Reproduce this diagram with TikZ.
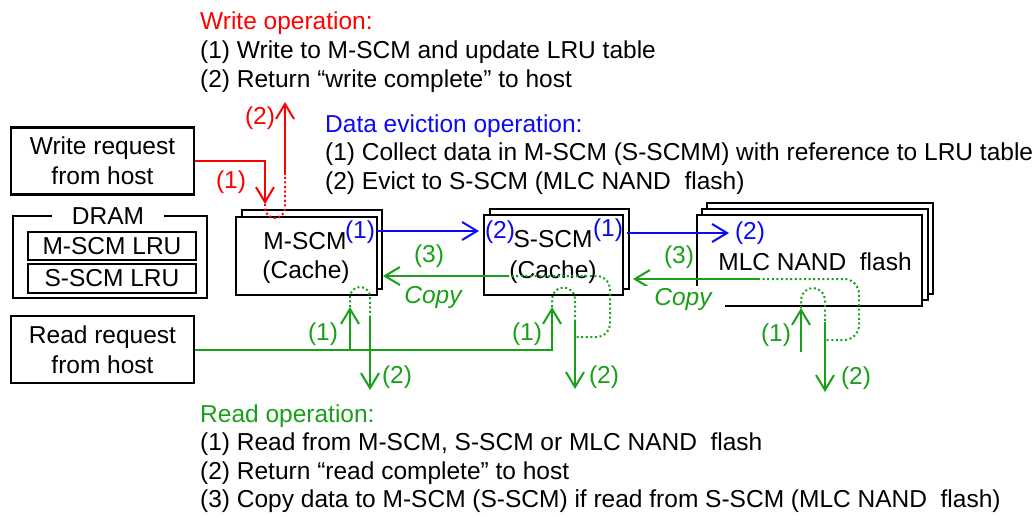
\documentclass[tikz,border=0pt]{standalone}
\usepackage{fontspec}
\setmainfont{Liberation Sans}
\usetikzlibrary{arrows.meta}
\definecolor{wred}{RGB}{255,0,0}
\definecolor{eblue}{RGB}{10,10,245}
\definecolor{rgreen}{RGB}{25,160,25}
\tikzset{
  box/.style={draw=black, line width=2.4pt, fill=white, inner sep=0pt},
  txt/.style={anchor=base west, inner sep=0pt, font=\fontsize{24.5}{29}\selectfont},
  lbl/.style={inner sep=0pt, font=\fontsize{24.5}{29}\selectfont},
  con/.style={line width=2pt},
  arr/.style={con, -{Straight Barb[length=15pt,width=18pt]}},
  dots/.style={line width=2pt, dash pattern=on 2pt off 2.6pt},
}
\begin{document}
\begin{tikzpicture}[x=1pt,y=-1pt]
\useasboundingbox (0,0) rectangle (1034,515);

% ---------- texts ----------
\node[txt, text=wred] (wop) at (200,29) {Write operation:};
\node[txt] (wop1) at (200,58) {(1) Write to M-SCM and update LRU table};
\node[txt] (wop2) at (200,87) {(2) Return “write complete” to host};

\node[txt, text=eblue] (eop) at (325,132) {Data eviction operation:};
\node[txt] (eop1) at (325,160) {(1) Collect data in M-SCM (S-SCMM) with reference to LRU table};
\node[txt] (eop2) at (325,189) {(2) Evict to S-SCM (MLC NAND\ \ flash)};

\node[txt, text=rgreen] (rop) at (200,422) {Read operation:};
\node[txt] (rop1) at (200,450) {(1) Read from M-SCM, S-SCM or MLC NAND\ \ flash};
\node[txt] (rop2) at (200,479) {(2) Return “read complete” to host};
\node[txt] (rop3) at (200,507) {(3) Copy data to M-SCM (S-SCM) if read from S-SCM (MLC NAND\ \ flash)};

% ---------- host boxes ----------
\node[box, minimum width=183pt, minimum height=67pt, align=center,
      font=\fontsize{24.5}{30}\selectfont] (wr) at (102.5,161) {Write request\\from host};
\node[box, minimum width=183pt, minimum height=67pt, align=center,
      font=\fontsize{24.5}{30}\selectfont] (rr) at (102.5,349.5) {Read request\\from host};

% ---------- DRAM ----------
\node[box, minimum width=194pt, minimum height=82pt] (dram) at (110,257) {};
\node[lbl, fill=white, inner xsep=20pt, inner ysep=2pt] (dramt) at (108,216) {DRAM};
\node[box, minimum width=168pt, minimum height=28pt, font=\fontsize{24.5}{29}\selectfont] (mlru) at (112,246) {M-SCM LRU};
\node[box, minimum width=168pt, minimum height=29pt, font=\fontsize{24.5}{29}\selectfont] (slru) at (112,278.5) {S-SCM LRU};

% ---------- M-SCM ----------
\node[box, minimum width=140pt, minimum height=79pt] (mscmB) at (312,249.5) {};
\node[box, minimum width=141pt, minimum height=78pt] (mscm) at (306.5,256) {};
\node[lbl, anchor=base] (mscmt1) at (305,249) {M-SCM};
\node[lbl, anchor=base] (mscmt2) at (306,278) {(Cache)};

% ---------- S-SCM ----------
\node[box, minimum width=139pt, minimum height=80pt] (sscmB) at (559.5,249) {};
\node[box, minimum width=139pt, minimum height=80pt] (sscm) at (553.5,255) {};
\node[lbl, anchor=base] (sscmt1) at (553,247) {S-SCM};
\node[lbl, anchor=base] (sscmt2) at (553,278) {(Cache)};

% ---------- MLC NAND flash ----------
\node[box, minimum width=226pt, minimum height=91pt] (mlcB2) at (820,248.5) {};
\node[box, minimum width=226pt, minimum height=91pt] (mlcB1) at (815,254.5) {};
\node[box, minimum width=225pt, minimum height=91pt] (mlc) at (809.5,260.5) {};
\node[lbl, anchor=base] (mlct) at (815,270) {MLC NAND\ \ flash};

% ---------- coordinates ----------
\coordinate (w1tip) at (265,204);
\coordinate (w2s) at (285,175);
\coordinate (w2tip) at (285,102);

\coordinate (b1s) at (377,231);
\coordinate (b1t) at (479,231);
\coordinate (b2s) at (627,233);
\coordinate (b2t) at (729,233);

\coordinate (c1t) at (383,276);
\coordinate (c1s) at (507,276);
\coordinate (c1e) at (575,337);
\coordinate (c2t) at (633,279);
\coordinate (c2s) at (758,279);
\coordinate (c2e) at (825,340);

\coordinate (r1m) at (350,349.5);
\coordinate (r1t) at (350,307);
\coordinate (r1d) at (370,317);
\coordinate (r1o) at (370,390);
\coordinate (r2t) at (552,307);
\coordinate (r2d) at (575,320);
\coordinate (r2o) at (575,389);
\coordinate (r3b) at (801,352);
\coordinate (r3t) at (801,308);
\coordinate (r3d) at (825,322);
\coordinate (r3o) at (825,392);

% ---------- write (red) ----------
\draw[arr, wred] (wr.east) -| (w1tip);
\draw[dots, wred] (w1tip) -- (265,208) arc[start angle=180, end angle=360, radius=10pt] -- (w2s);
\draw[arr, wred] (w2s) -- (w2tip);
\node[lbl, text=wred] (wl1) at (231,182) {(1)};
\node[lbl, text=wred] (wl2) at (260,118) {(2)};

% ---------- eviction (blue) ----------
\draw[arr, eblue] (b1s) -- (b1t);
\draw[arr, eblue] (b2s) -- (b2t);
\node[lbl, text=eblue] (el1) at (360,232) {(1)};
\node[lbl, text=eblue] (el2) at (500,232) {(2)};
\node[lbl, text=eblue] (el3) at (608,230) {(1)};
\node[lbl, text=eblue] (el4) at (750,233) {(2)};

% ---------- copy (green) ----------
\draw[arr, rgreen] (c1s) -- (c1t);
\draw[dots, rgreen, rounded corners=13pt] (c1s) -| (610,310) |- (c1e);
\draw[arr, rgreen] (c2s) -- (c2t);
\draw[dots, rgreen, rounded corners=15pt] (c2s) -| (859,310) |- (c2e);
\node[lbl, text=rgreen] (cl1) at (429,256) {(3)};
\node[lbl, text=rgreen, font=\fontsize{24.5}{29}\selectfont\itshape] (cp1) at (433,297) {Copy};
\node[lbl, text=rgreen] (cl2) at (679,257) {(3)};
\node[lbl, text=rgreen, fill=white, anchor=base, inner xsep=13pt, inner ysep=2pt,
      text height=17pt, text depth=6pt,
      font=\fontsize{24.5}{29}\selectfont\itshape] (cp2) at (683,305) {Copy};

% ---------- read (green) ----------
\draw[arr, rgreen] (rr.east) -| (r2t);
\draw[arr, rgreen] (r1m) -- (r1t);
\draw[dots, rgreen] (r1t) -- (350,297) arc[start angle=180, end angle=0, radius=10pt] -- (r1d);
\draw[arr, rgreen] (r1d) -- (r1o);
\draw[dots, rgreen] (r2t) -- (552,299) arc[start angle=180, end angle=0, radius=11.5pt] -- (r2d);
\draw[arr, rgreen] (r2d) -- (r2o);
\draw[arr, rgreen] (r3b) -- (r3t);
\draw[dots, rgreen] (r3t) -- (801,300) arc[start angle=180, end angle=0, radius=12pt] -- (r3d);
\draw[arr, rgreen] (r3d) -- (r3o);
\node[lbl, text=rgreen] (rl1) at (323,334) {(1)};
\node[lbl, text=rgreen] (rl2) at (397,377) {(2)};
\node[lbl, text=rgreen] (rl3) at (527,334) {(1)};
\node[lbl, text=rgreen] (rl4) at (604,377) {(2)};
\node[lbl, text=rgreen] (rl5) at (776,335) {(1)};
\node[lbl, text=rgreen] (rl6) at (856,378) {(2)};
\end{tikzpicture}
\end{document}
